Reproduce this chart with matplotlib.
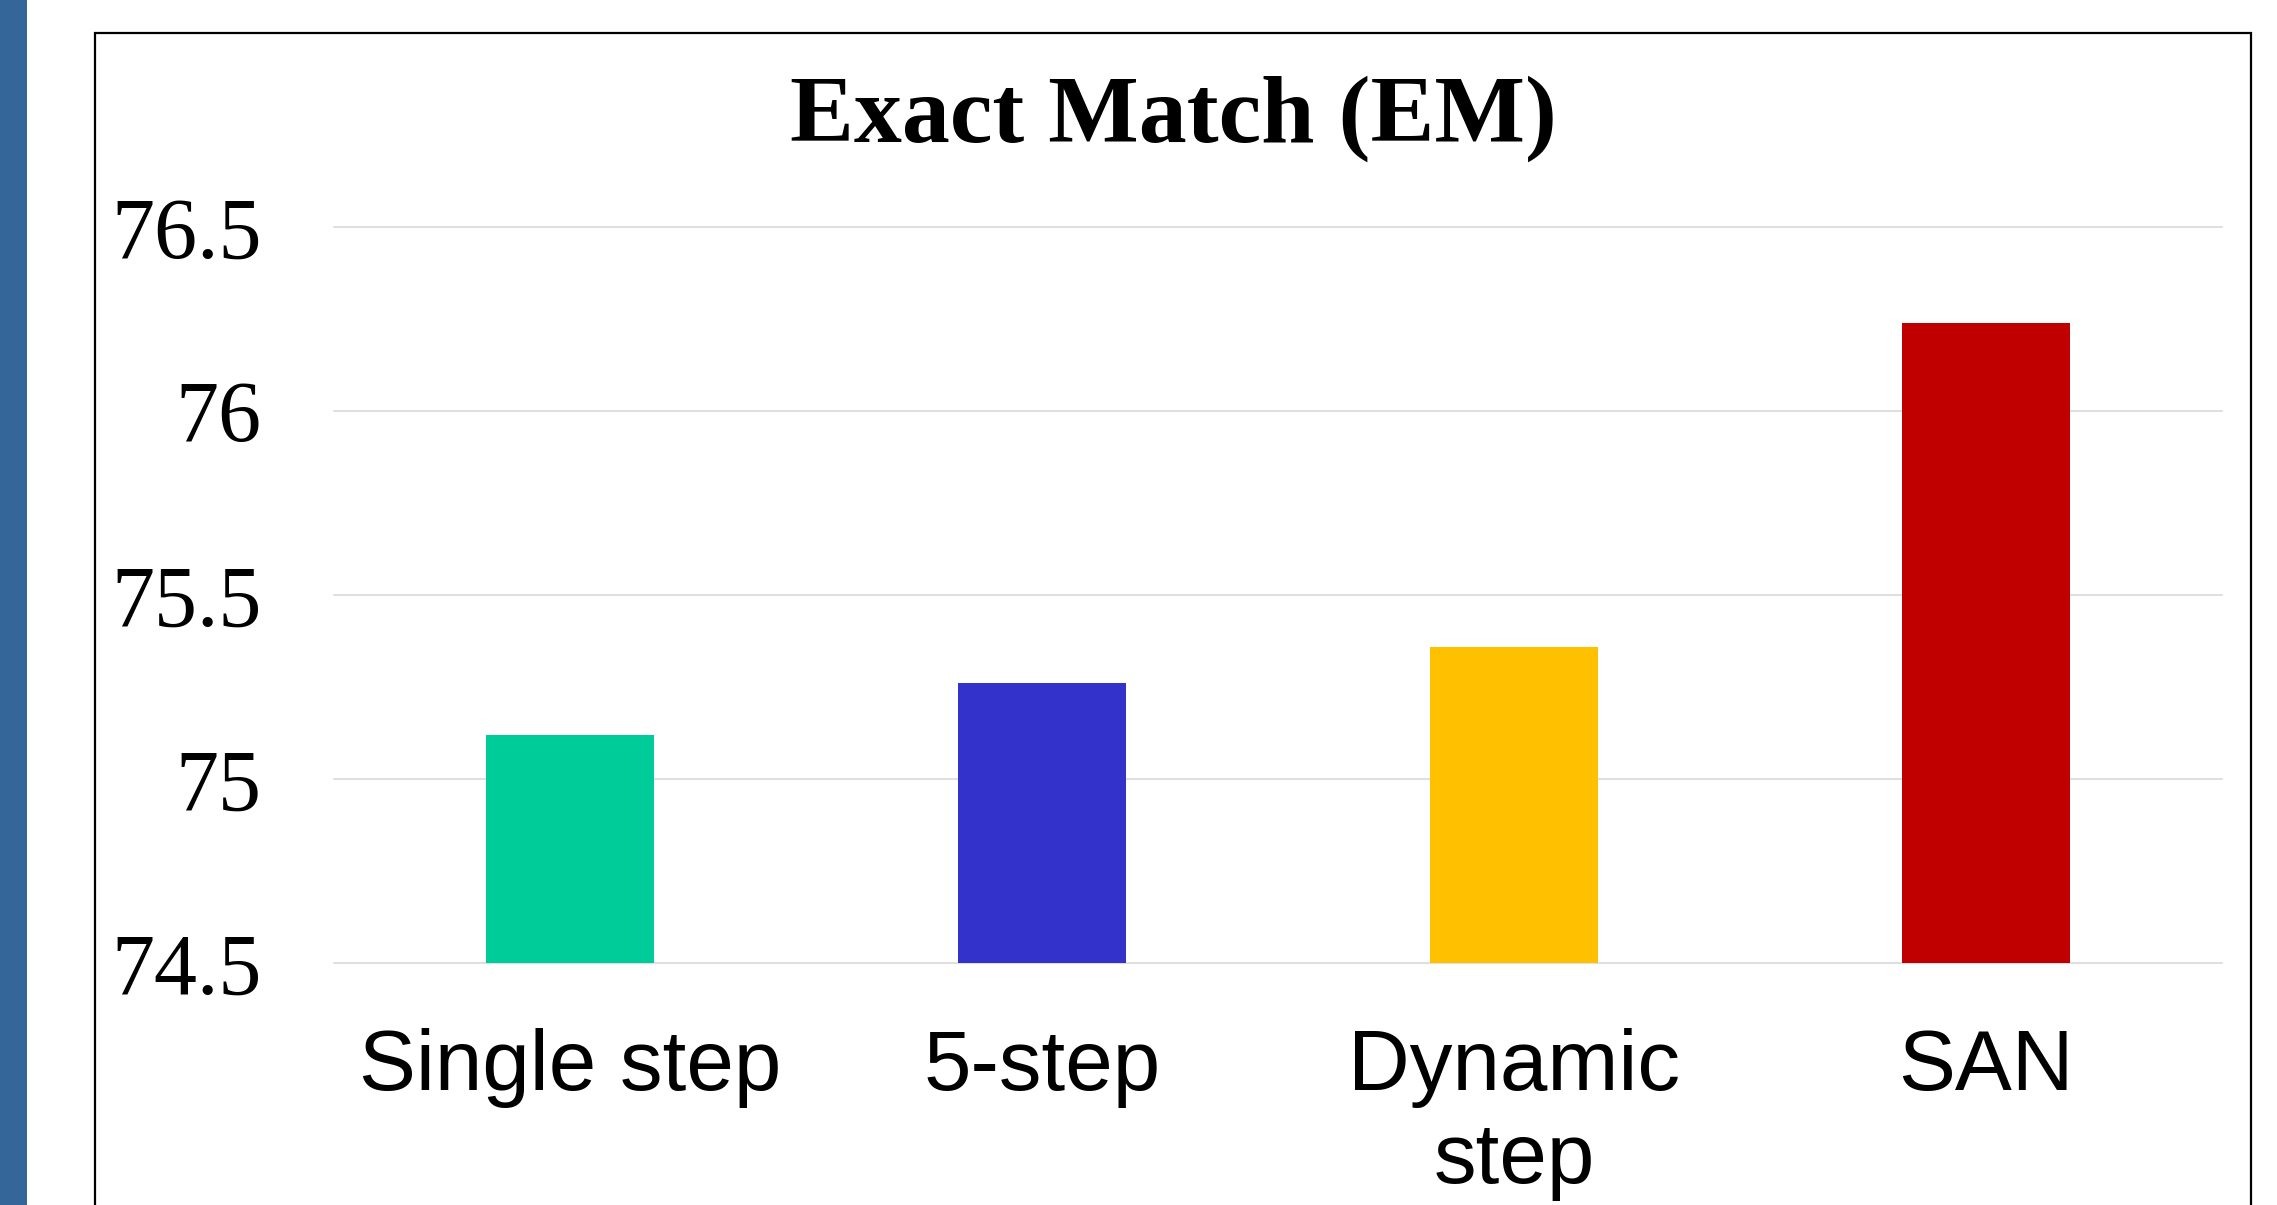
import matplotlib
matplotlib.use("Agg")
import matplotlib.pyplot as plt
from matplotlib.patches import Rectangle

# Exact Match scores per decoding variant
categories = ["Single step", "5-step", "Dynamic\nstep", "SAN"]
em_scores = [75.12, 75.26, 75.36, 76.24]
bar_colors = ["#00CC99", "#3333CC", "#FFC000", "#C00000"]
y_ticks = [74.5, 75, 75.5, 76, 76.5]
y_tick_labels = ["74.5", "75", "75.5", "76", "76.5"]
y_floor = 74.5

W, H = 2277, 1205
fig = plt.figure(figsize=(W / 100, H / 100), dpi=100)
fig.patch.set_facecolor("white")

# slide accent strip on the left and the chart frame
fig.add_artist(Rectangle((0, 0), 27 / W, 1, transform=fig.transFigure,
                         facecolor="#346699", edgecolor="none"))
fig.add_artist(Rectangle((95 / W, -0.05), (2251 - 95) / W, 1.05 - 33 / H,
                         transform=fig.transFigure, facecolor="none",
                         edgecolor="black", linewidth=1.6))

ax = fig.add_axes([334 / W, 1 - 963 / H, (2222 - 334) / W, (963 - 227) / H])
ax.set_facecolor("none")

x = list(range(len(categories)))
heights = [v - y_floor for v in em_scores]
ax.bar(x, heights, bottom=y_floor, width=0.358, color=bar_colors, zorder=3)

ax.set_xlim(-0.5, len(categories) - 0.5)
ax.set_ylim(y_ticks[0], y_ticks[-1])
ax.set_yticks(y_ticks)
ax.set_yticklabels(y_tick_labels, fontfamily="Liberation Serif", fontsize=62)
ax.set_xticks(x)
ax.set_xticklabels(categories, fontfamily="Liberation Sans", fontsize=61.5,
                   linespacing=1.2)
ax.tick_params(axis="y", length=0, pad=52)
ax.tick_params(axis="x", length=0, pad=47)

ax.grid(axis="y", color="#D9D9D9", linewidth=1.2, zorder=0)
ax.grid(axis="x", visible=False)
for gl in ax.get_ygridlines():
    gl.set_clip_on(False)
for s in ax.spines.values():
    s.set_visible(False)

fig.text(1173 / W, 1 - 142 / H, "Exact Match (EM)", ha="center", va="baseline",
         fontfamily="Liberation Serif", fontweight="bold", fontsize=69)

fig.savefig("out.png", dpi=100, facecolor="white")
